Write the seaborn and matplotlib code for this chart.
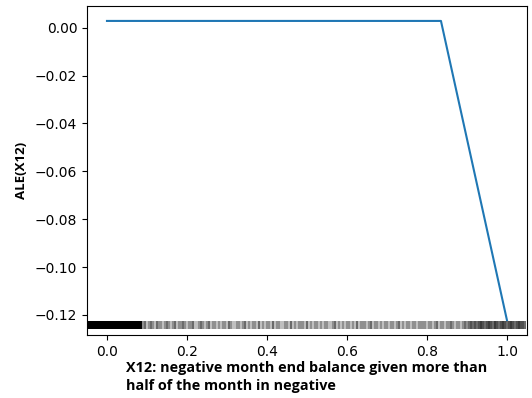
import numpy as np
import matplotlib
matplotlib.use("Agg")
import matplotlib.pyplot as plt
import matplotlib.transforms as mtransforms
import seaborn as sns

# ALE curve
ale_x = [0.0, 0.835, 1.0]
ale_y = [0.0028, 0.0028, -0.1222]

# Rug: dense block of observations near zero
rug_dense = [-0.0500, -0.0475, -0.0450, -0.0425, -0.0400, -0.0375, -0.0350, -0.0325,
             -0.0300, -0.0275, -0.0250, -0.0225, -0.0200, -0.0175, -0.0150, -0.0125,
             -0.0100, -0.0075, -0.0050, -0.0025, 0.0000, 0.0025, 0.0050, 0.0075,
             0.0100, 0.0125, 0.0150, 0.0175, 0.0200, 0.0225, 0.0250, 0.0275,
             0.0300, 0.0325, 0.0350, 0.0375, 0.0400, 0.0425, 0.0450, 0.0475,
             0.0500, 0.0525, 0.0550, 0.0575, 0.0600, 0.0625, 0.0650, 0.0675,
             0.0700, 0.0725, 0.0750, 0.0775, 0.0800, 0.0825, 0.0850]
rug_dense_count = 12

# Rug: scattered observations (value, count)
rug_vals = [0.090, 0.095, 0.100, 0.105, 0.110, 0.115, 0.120, 0.125, 0.130, 0.135,
            0.140, 0.145, 0.150, 0.155, 0.160, 0.165, 0.170, 0.175, 0.180, 0.185,
            0.190, 0.195, 0.200, 0.205, 0.210, 0.215, 0.220, 0.225, 0.230, 0.235,
            0.240, 0.245, 0.250, 0.255, 0.260, 0.265, 0.270, 0.275, 0.280, 0.285,
            0.290, 0.295, 0.300, 0.305, 0.310, 0.315, 0.320, 0.325, 0.330, 0.335,
            0.340, 0.345, 0.350, 0.355, 0.360, 0.365, 0.370, 0.375, 0.380, 0.385,
            0.390, 0.395, 0.400, 0.405, 0.410, 0.415, 0.420, 0.425, 0.430, 0.435,
            0.440, 0.445, 0.450, 0.455, 0.460, 0.465, 0.470, 0.475, 0.480, 0.485,
            0.490, 0.495, 0.500, 0.505, 0.510, 0.515, 0.520, 0.525, 0.530, 0.535,
            0.540, 0.545, 0.550, 0.555, 0.560, 0.565, 0.570, 0.575, 0.580, 0.585,
            0.590, 0.595, 0.600, 0.605, 0.610, 0.615, 0.620, 0.625, 0.630, 0.635,
            0.640, 0.645, 0.650, 0.655, 0.660, 0.665, 0.670, 0.675, 0.680, 0.685,
            0.690, 0.695, 0.700, 0.705, 0.710, 0.715, 0.720, 0.725, 0.730, 0.735,
            0.740, 0.745, 0.750, 0.755, 0.760, 0.765, 0.770, 0.775, 0.780, 0.785,
            0.790, 0.795, 0.800, 0.805, 0.810, 0.815, 0.820, 0.825, 0.830, 0.835,
            0.840, 0.845, 0.850, 0.855, 0.860, 0.865, 0.870, 0.875, 0.880, 0.885,
            0.890, 0.895, 0.900, 0.905, 0.910, 0.915, 0.920, 0.925, 0.930, 0.935,
            0.940, 0.945, 0.950, 0.955, 0.960, 0.965, 0.970, 0.975, 0.980, 0.985,
            0.990, 0.995, 1.000, 1.005, 1.010, 1.015, 1.020, 1.025, 1.030, 1.035,
            1.040, 1.045]
rug_counts = [2, 3, 1, 2, 3, 2, 1, 3, 2, 2,
              1, 2, 3, 2, 1, 2, 3, 1, 2, 2,
              3, 2, 1, 2, 2, 3, 1, 1, 2, 3,
              2, 1, 2, 3, 1, 2, 2, 1, 2, 1,
              2, 2, 1, 3, 2, 1, 1, 2, 2, 1,
              2, 3, 1, 2, 1, 2, 2, 1, 3, 1,
              2, 1, 2, 2, 1, 3, 1, 2, 2, 1,
              1, 2, 2, 1, 3, 1, 2, 1, 2, 2,
              2, 1, 3, 1, 2, 1, 2, 2, 1, 2,
              1, 2, 2, 1, 1, 2, 3, 1, 2, 1,
              2, 1, 2, 2, 1, 2, 1, 3, 1, 2,
              2, 2, 1, 2, 3, 1, 2, 2, 1, 2,
              1, 2, 2, 1, 2, 2, 1, 2, 3, 1,
              2, 1, 2, 2, 1, 2, 2, 1, 2, 2,
              2, 2, 1, 2, 2, 1, 2, 3, 1, 2,
              2, 1, 2, 2, 3, 2, 1, 2, 2, 1,
              2, 3, 2, 3, 4, 3, 4, 3, 4, 5,
              4, 3, 4, 5, 4, 3, 5, 4, 3, 4,
              5, 4, 3, 4, 5, 4, 3, 4, 5, 4,
              4, 3]

x_label = "X12: negative month end balance given more than\nhalf of the month in negative"
y_label = "ALE(X12)"

rug_x = np.concatenate([np.repeat(rug_dense, rug_dense_count),
                        np.repeat(rug_vals, rug_counts)])

fig = plt.figure(figsize=(5.32, 3.98), dpi=100)
ax = fig.add_axes([0.1635, 0.158, 0.827, 0.827])

sns.lineplot(x=ale_x, y=ale_y, ax=ax, color="#1f77b4", linewidth=1.5)

tr = mtransforms.offset_copy(ax.transData, fig=fig, x=0.0, y=-3.3, units="points")
ax.plot(rug_x, [min(ale_y)] * len(rug_x), "|", color="k", alpha=0.3,
        markersize=6, markeredgewidth=1.2, transform=tr)

ax.set_xlim(-0.05, 1.05)
ax.set_ylim(-0.12845, 0.00905)
ax.set_xticks([0.0, 0.2, 0.4, 0.6, 0.8, 1.0])
ax.set_yticks([0.0, -0.02, -0.04, -0.06, -0.08, -0.10, -0.12])

label_font = ["Open Sans", "DejaVu Sans"]
ax.set_xlabel(x_label, fontweight="bold", fontsize=10.4, family=label_font,
              multialignment="left", linespacing=1.4, labelpad=1.5)
ax.set_ylabel(y_label, fontweight="bold", fontsize=9.5, family=label_font,
              labelpad=5)

fig.savefig("out.png", dpi=100)
